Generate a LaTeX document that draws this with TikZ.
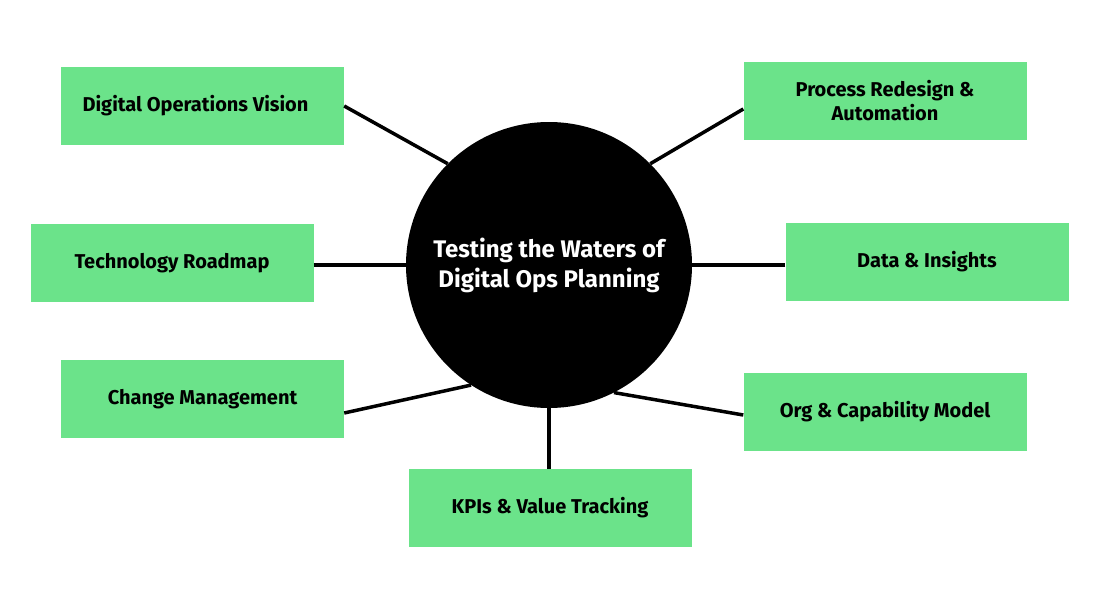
\documentclass[tikz,border=0pt]{standalone}
\usepackage{fontspec}
\setmainfont{Fira Sans}
\usepackage{xcolor}
\usetikzlibrary{positioning}
\definecolor{MintGreen}{HTML}{6BE38A}

\begin{document}
\begin{tikzpicture}[
    x=1pt, y=-1pt,
    topic/.style={rectangle, fill=MintGreen, minimum width=283pt, minimum height=78pt, inner sep=0pt, align=center, font=\fontsize{20}{24}\selectfont\bfseries},
    hub/.style={circle, fill=black, minimum size=286pt, inner sep=0pt, align=center, text=white, font=\fontsize{24}{30}\selectfont\bfseries},
    link/.style={line width=3.5pt}
]
\useasboundingbox (0,0) rectangle (1100,610);

\node[hub] (hub) at (549,265) {Testing the Waters of\\Digital Ops Planning};

\node[topic] (vision) at (202.5,106) {\hspace*{-14pt}Digital Operations Vision};
\node[topic] (roadmap) at (172,263) {Technology Roadmap};
\node[topic] (change) at (202.5,399) {Change Management};
\node[topic] (kpi) at (550,508) {KPIs \& Value Tracking};
\node[topic] (process) at (885,101) {Process Redesign \&\\Automation};
\node[topic] (data) at (927,262) {Data \& Insights};
\node[topic] (org) at (885,412) {Org \& Capability Model};

\draw[link] (vision.east) -- (hub.135);
\draw[link] (roadmap.east |- 0,265) -- (hub.west);
\draw[link] ([yshift=-14pt]change.east) -- (hub.237);
\draw[link] (kpi.north -| hub.south) -- (hub.south);
\draw[link] ([yshift=-8pt]process.west) -- (hub.45);
\draw[link] (data.west |- hub.east) -- (hub.east);
\draw[link] ([yshift=-3pt]org.west) -- (hub.297);

\end{tikzpicture}
\end{document}
